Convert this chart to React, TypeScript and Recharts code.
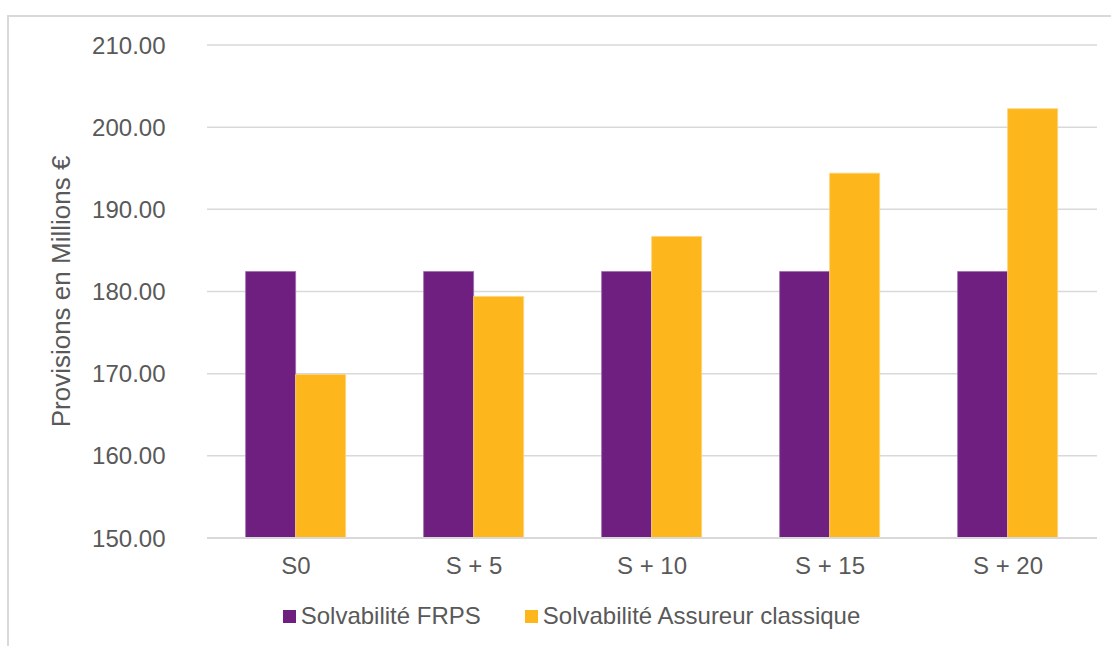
import React from 'react';
import { BarChart, Bar, XAxis, YAxis, CartesianGrid, Legend } from 'recharts';

const categories = ['S0', 'S + 5', 'S + 10', 'S + 15', 'S + 20'];
const frps = [182.44, 182.44, 182.44, 182.44, 182.44];
const assureur = [169.9, 179.4, 186.7, 194.4, 202.25];
const yTicks = [150, 160, 170, 180, 190, 200, 210];

const SERIES_FRPS = 'Solvabilité FRPS';
const SERIES_ASS = 'Solvabilité Assureur classique';
const seriesOrder = [SERIES_FRPS, SERIES_ASS];

const data = categories.map((c, i) => ({ name: c, frps: frps[i], assureur: assureur[i] }));

const PURPLE = '#6E1F80';
const YELLOW = '#FDB71D';
const TEXT = '#595959';
const GRID = '#D9D9D9';
const FONT = '"Liberation Sans", Arial, sans-serif';

const renderLegend = (props: any) => {
  const payload = [...(props.payload || [])].sort(
    (a: any, b: any) => seriesOrder.indexOf(a.value) - seriesOrder.indexOf(b.value)
  );
  return (
    <div style={{ display: 'flex', justifyContent: 'center', alignItems: 'center', fontFamily: FONT, fontSize: 24, color: TEXT }}>
      {payload.map((p: any, i: number) => (
        <div key={i} style={{ display: 'flex', alignItems: 'center', marginRight: i === payload.length - 1 ? 0 : 44 }}>
          <span style={{ display: 'inline-block', width: 13, height: 13, background: p.color, marginRight: 5 }} />
          <span>{p.value}</span>
        </div>
      ))}
    </div>
  );
};

export default function App() {
  return (
    <div style={{ position: 'absolute', left: 0, top: 0, width: 1111, height: 646, overflow: 'hidden', background: '#fff' }}>
      <div style={{ position: 'absolute', left: 7, top: 15, width: 1200, height: 800, border: `2px solid ${GRID}`, boxSizing: 'border-box' }} />
      <div style={{ position: 'absolute', left: 0, top: 0 }}>
        <BarChart
          width={1111}
          height={646}
          data={data}
          margin={{ top: 45, right: 14, bottom: 68, left: 30 }}
          barCategoryGap="21.7%"
          barGap={0}
        >
          <CartesianGrid vertical={false} stroke={GRID} strokeWidth={1.5} />
          <XAxis
            dataKey="name"
            height={40}
            tickLine={false}
            tickSize={6}
            tickMargin={13}
            axisLine={{ stroke: GRID, strokeWidth: 2 }}
            tick={{ fill: TEXT, fontSize: 24, fontFamily: FONT }}
          />
          <YAxis
            width={177}
            domain={[150, 210]}
            ticks={yTicks}
            interval={0}
            allowDataOverflow
            axisLine={false}
            tickLine={false}
            tickSize={6}
            tickMargin={35.5}
            tickFormatter={(v: number) => v.toFixed(2)}
            tick={{ fill: TEXT, fontSize: 24, fontFamily: FONT }}
            label={{
              value: 'Provisions en Millions €',
              angle: -90,
              position: 'insideLeft',
              offset: 31,
              style: { textAnchor: 'middle', fill: TEXT, fontSize: 26, fontFamily: FONT },
            }}
          />
          <Legend
            layout="horizontal"
            verticalAlign="middle"
            align="center"
            content={renderLegend}
            wrapperStyle={{ position: 'absolute', left: 16, top: 602, width: 1111, height: 30 }}
          />
          <Bar dataKey="frps" name={SERIES_FRPS} fill={PURPLE} stroke="#9E6BAA" strokeWidth={0.8} isAnimationActive={false} />
          <Bar dataKey="assureur" name={SERIES_ASS} fill={YELLOW} stroke="#FDD37A" strokeWidth={0.8} isAnimationActive={false} />
        </BarChart>
      </div>
    </div>
  );
}
